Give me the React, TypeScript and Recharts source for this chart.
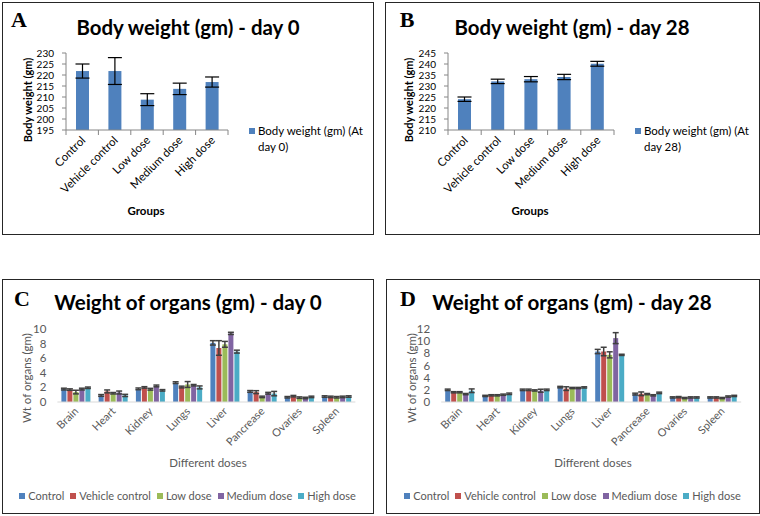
import React from 'react';
import { BarChart, Bar, XAxis, YAxis, ErrorBar, Legend } from 'recharts';

// ---------- data ----------
const groups = ['Control', 'Vehicle control', 'Low dose', 'Medium dose', 'High dose'];
const bodyWeightDay0 = [221.8, 221.8, 208.8, 213.7, 216.8];
const bodyWeightDay0Err = [3.2, 6.1, 2.7, 2.6, 2.3];
const bodyWeightDay28 = [224.0, 232.1, 233.1, 234.1, 240.1];
const bodyWeightDay28Err = [1.0, 1.0, 1.2, 1.2, 1.1];
const bodyDay0Ticks = [195, 200, 205, 210, 215, 220, 225, 230];
const bodyDay28Ticks = [210, 215, 220, 225, 230, 235, 240, 245];

const organs = ['Brain', 'Heart', 'Kidney', 'Lungs', 'Liver', 'Pancrease', 'Ovaries', 'Spleen'];
const organDay0Ticks = [0, 2, 4, 6, 8, 10];
const organDay28Ticks = [0, 2, 4, 6, 8, 10, 12];

// day 0 organ weights per group
const d0Control = [1.77, 0.9, 1.8, 2.65, 8.1, 1.45, 0.65, 0.75];
const d0Vehicle = [1.7, 1.45, 2.0, 2.05, 7.4, 1.35, 0.8, 0.7];
const d0Low = [1.36, 1.2, 1.75, 2.4, 7.9, 0.7, 0.6, 0.65];
const d0Medium = [1.77, 1.3, 2.2, 2.3, 9.4, 1.2, 0.55, 0.7];
const d0High = [1.95, 0.9, 1.6, 2.0, 6.9, 1.15, 0.7, 0.75];
const d0ControlErr = [0.12, 0.12, 0.12, 0.12, 0.3, 0.12, 0.1, 0.1];
const d0VehicleErr = [0.1, 0.2, 0.1, 0.12, 1.0, 0.2, 0.1, 0.1];
const d0LowErr = [0.25, 0.1, 0.12, 0.4, 0.4, 0.1, 0.1, 0.1];
const d0MediumErr = [0.12, 0.2, 0.12, 0.1, 0.15, 0.12, 0.1, 0.1];
const d0HighErr = [0.1, 0.15, 0.1, 0.2, 0.2, 0.3, 0.1, 0.1];

// day 28 organ weights per group
const d28Control = [2.0, 1.0, 2.0, 2.45, 8.3, 1.3, 0.75, 0.75];
const d28Vehicle = [1.6, 1.1, 2.0, 2.2, 8.3, 1.35, 0.8, 0.75];
const d28Low = [1.6, 1.1, 1.9, 2.3, 7.75, 1.3, 0.65, 0.65];
const d28Medium = [1.3, 1.2, 1.85, 2.3, 10.5, 1.1, 0.75, 0.9];
const d28High = [1.85, 1.35, 2.0, 2.4, 7.75, 1.5, 0.75, 1.0];
const d28ControlErr = [0.12, 0.1, 0.12, 0.12, 0.35, 0.15, 0.1, 0.1];
const d28VehicleErr = [0.1, 0.1, 0.12, 0.3, 0.7, 0.3, 0.1, 0.1];
const d28LowErr = [0.1, 0.1, 0.1, 0.1, 0.5, 0.1, 0.1, 0.1];
const d28MediumErr = [0.1, 0.1, 0.25, 0.1, 0.9, 0.1, 0.1, 0.1];
const d28HighErr = [0.3, 0.12, 0.12, 0.1, 0.1, 0.12, 0.1, 0.1];

const groupColors = ['#4F81BD', '#C0504D', '#9BBB59', '#8064A2', '#4BACC6'];

// ---------- tables ----------
const bodyDay0Rows = groups.map((g, i) => ({ group: g, value: bodyWeightDay0[i], err: bodyWeightDay0Err[i] }));
const bodyDay28Rows = groups.map((g, i) => ({ group: g, value: bodyWeightDay28[i], err: bodyWeightDay28Err[i] }));

const keys = ['s0', 's1', 's2', 's3', 's4'];
function organRows(vals: number[][], errs: number[][]) {
  return organs.map((o, i) => {
    const row: any = { organ: o };
    keys.forEach((k, j) => {
      row[k] = vals[j][i];
      row[k + 'e'] = errs[j][i];
    });
    return row;
  });
}
const organDay0Rows = organRows(
  [d0Control, d0Vehicle, d0Low, d0Medium, d0High],
  [d0ControlErr, d0VehicleErr, d0LowErr, d0MediumErr, d0HighErr]
);
const organDay28Rows = organRows(
  [d28Control, d28Vehicle, d28Low, d28Medium, d28High],
  [d28ControlErr, d28VehicleErr, d28LowErr, d28MediumErr, d28HighErr]
);

// ---------- styling ----------
const FONT = 'Lato, "Open Sans", sans-serif';
const GRAY = '#595959';

const Frame = ({ left, top, width, height }: any) => (
  <div style={{ position: 'absolute', left, top, width, height, border: '1px solid #262626', boxSizing: 'border-box' }} />
);

const Txt = ({ x, y, children, size, bold, color, rotate, serif }: any) => (
  <div
    style={{
      position: 'absolute',
      left: x,
      top: y,
      transform: `translate(-50%, -50%)${rotate ? ' rotate(-90deg)' : ''}`,
      whiteSpace: 'nowrap',
      fontFamily: serif ? '"Liberation Serif", serif' : FONT,
      fontSize: size,
      fontWeight: bold ? 700 : 400,
      color: color || '#000',
      lineHeight: 1,
    }}
  >
    {children}
  </div>
);

const makeRotTick = (opts: { band: number; color: string; size: number; dx: number; dy: number; marks: boolean; count: number }) =>
  (props: any) => {
    const { x, y, payload, index } = props;
    const tx = x + opts.dx;
    const ty = y + opts.dy;
    return (
      <g>
        {opts.marks && <line x1={x - opts.band / 2} x2={x - opts.band / 2} y1={y} y2={y + 5} stroke="#868686" />}
        {opts.marks && index === opts.count - 1 && (
          <line x1={x + opts.band / 2} x2={x + opts.band / 2} y1={y} y2={y + 5} stroke="#868686" />
        )}
        <text
          x={tx}
          y={ty}
          transform={`rotate(-45 ${tx} ${ty})`}
          textAnchor="end"
          fill={opts.color}
          fontSize={opts.size}
          fontFamily={FONT}
        >
          {payload.value}
        </text>
      </g>
    );
  };

const BodyLegend = ({ label1, label2 }: any) => (
  <div style={{ display: 'flex', alignItems: 'flex-start', fontFamily: FONT, fontSize: 11.5, color: '#000', lineHeight: '16px' }}>
    <div style={{ width: 6, height: 6, background: '#4F81BD', marginTop: 5, marginRight: 3, flex: 'none' }} />
    <div style={{ whiteSpace: 'nowrap' }}>
      <div>{label1}</div>
      <div>{label2}</div>
    </div>
  </div>
);

const OrganLegend = () => (
  <div style={{ display: 'flex', justifyContent: 'center', fontFamily: FONT, fontSize: 11, color: GRAY, lineHeight: '14px', whiteSpace: 'nowrap' }}>
    {groups.map((g, j) => (
      <div key={g} style={{ display: 'flex', alignItems: 'center', marginRight: j < groups.length - 1 ? 6 : 0 }}>
        <div style={{ width: 6, height: 6, background: groupColors[j], marginRight: 3 }} />
        <span>{g}</span>
      </div>
    ))}
  </div>
);

const BodyChart = ({ rows, ticks, domain, width, plotLeft, plotWidth, legend1, legend2 }: any) => {
  const band = plotWidth / rows.length;
  return (
    <BarChart
      width={width}
      height={232}
      data={rows}
      margin={{ top: 51, left: plotLeft - 50, right: width - plotLeft - plotWidth, bottom: 74 }}
      barCategoryGap={0}
    >
      <XAxis
        dataKey="group"
        height={30}
        interval={0}
        tickLine={false}
        tickSize={0}
        tickMargin={0}
        stroke="#868686"
        tick={makeRotTick({ band, color: '#000', size: 11.5, dx: 4, dy: 11, marks: true, count: rows.length })}
      />
      <YAxis
        width={50}
        domain={domain}
        ticks={ticks}
        interval={0}
        allowDataOverflow
        stroke="#868686"
        tickSize={4}
        tickMargin={8}
        tick={{ fill: '#000', fontSize: 10, fontFamily: FONT }}
      />
      <Legend
        verticalAlign="middle"
        align="center"
        layout="horizontal"
        wrapperStyle={{ left: plotLeft + plotWidth + 21, top: 121, width: 130 }}
        content={() => <BodyLegend label1={legend1} label2={legend2} />}
      />
      <Bar dataKey="value" fill="#4F81BD" barSize={13} isAnimationActive={false}>
        <ErrorBar dataKey="err" width={7} stroke="#000" strokeWidth={1.2} />
      </Bar>
    </BarChart>
  );
};

const OrganChart = ({ rows, ticks, domain, width, plotLeft, plotWidth }: any) => {
  const band = plotWidth / rows.length;
  return (
    <BarChart
      width={width}
      height={234}
      data={rows}
      margin={{ top: 50, left: plotLeft - 40, right: width - plotLeft - plotWidth, bottom: 80 }}
      barGap={1}
    >
      <XAxis
        dataKey="organ"
        height={31}
        interval={0}
        tickLine={false}
        tickSize={0}
        tickMargin={0}
        stroke="#D9D9D9"
        tick={makeRotTick({ band, color: GRAY, size: 11, dx: 3, dy: 10, marks: false, count: rows.length })}
      />
      <YAxis
        width={40}
        domain={domain}
        ticks={ticks}
        interval={0}
        axisLine={false}
        tickLine={false}
        tickSize={0}
        tickMargin={11}
        tick={{ fill: GRAY, fontSize: 11.5, fontFamily: FONT }}
      />
      <Legend
        verticalAlign="middle"
        align="center"
        layout="horizontal"
        wrapperStyle={{ left: 0, top: 210, width: width }}
        content={() => <OrganLegend />}
      />
      {keys.map((k, j) => (
        <Bar key={k} dataKey={k} name={groups[j]} fill={groupColors[j]} barSize={5} isAnimationActive={false}>
          <ErrorBar dataKey={k + 'e'} width={3} stroke="#404040" strokeWidth={1.5} />
        </Bar>
      ))}
    </BarChart>
  );
};

export default function App() {
  return (
    <div style={{ position: 'absolute', left: 0, top: 0, width: 760, height: 516, background: '#fff', overflow: 'hidden' }}>
      {/* Panel A */}
      <div style={{ position: 'absolute', left: 2, top: 2 }}>
        <BodyChart rows={bodyDay0Rows} ticks={bodyDay0Ticks} domain={[195, 230]} width={371} plotLeft={64} plotWidth={162}
          legend1="Body weight (gm) (At" legend2="day 0)" />
      </div>
      <Frame left={2} top={2} width={372} height={233} />
      <Txt x={19} y={20} size={22} bold serif>A</Txt>
      <Txt x={188} y={27} size={20.4} bold>Body weight (gm) - day 0</Txt>
      <Txt x={27} y={100} size={11} bold rotate>Body weight (gm)</Txt>
      <Txt x={146} y={211} size={11.5} bold>Groups</Txt>

      {/* Panel B */}
      <div style={{ position: 'absolute', left: 385, top: 2 }}>
        <BodyChart rows={bodyDay28Rows} ticks={bodyDay28Ticks} domain={[210, 245]} width={374} plotLeft={63} plotWidth={166}
          legend1="Body weight (gm) (At" legend2="day 28)" />
      </div>
      <Frame left={385} top={2} width={375} height={233} />
      <Txt x={407} y={20} size={22} bold serif>B</Txt>
      <Txt x={572} y={27} size={20.4} bold>Body weight (gm) - day 28</Txt>
      <Txt x={408} y={100} size={11} bold rotate>Body weight (gm)</Txt>
      <Txt x={530} y={211} size={11.5} bold>Groups</Txt>

      {/* Panel C */}
      <div style={{ position: 'absolute', left: 2, top: 279 }}>
        <OrganChart rows={organDay0Rows} ticks={organDay0Ticks} domain={[0, 10]} width={371} plotLeft={55.4} plotWidth={298} />
      </div>
      <Frame left={2} top={279} width={372} height={235} />
      <Txt x={22} y={299} size={22} bold serif>C</Txt>
      <Txt x={188} y={302} size={20.6} bold>Weight of organs (gm) - day 0</Txt>
      <Txt x={27} y={378} size={11.5} color={GRAY} rotate>Wt of organs (gm)</Txt>
      <Txt x={208} y={463} size={11.5} color={GRAY}>Different doses</Txt>

      {/* Panel D */}
      <div style={{ position: 'absolute', left: 386, top: 279 }}>
        <OrganChart rows={organDay28Rows} ticks={organDay28Ticks} domain={[0, 12]} width={373} plotLeft={55.2} plotWidth={300} />
      </div>
      <Frame left={386} top={279} width={374} height={235} />
      <Txt x={408} y={299} size={22} bold serif>D</Txt>
      <Txt x={572} y={302} size={20.6} bold>Weight of organs (gm) - day 28</Txt>
      <Txt x={412} y={378} size={11.5} color={GRAY} rotate>Wt of organs (gm)</Txt>
      <Txt x={593} y={463} size={11.5} color={GRAY}>Different doses</Txt>
    </div>
  );
}
